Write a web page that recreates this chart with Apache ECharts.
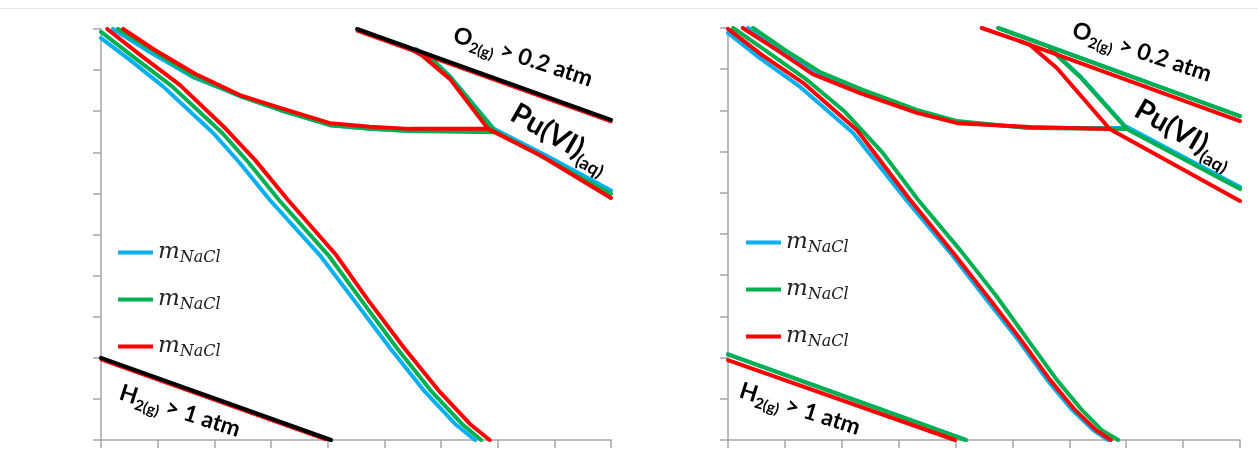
<!DOCTYPE html>
<html>
<head>
<meta charset="utf-8">
<script src="https://cdn.jsdelivr.net/npm/echarts@6/dist/echarts.min.js"></script>
<style>
  html, body { margin: 0; padding: 0; background: #fff; }
  #main { width: 1258px; height: 449px; }
</style>
</head>
<body>
<div id="main"></div>
<script>
// x: 0..9 (9 tick intervals), y: 0..10 (10 tick intervals), no tick labels shown
const xMax = 9
const yMax = 10
const legendNames = ['mNaCl-1', 'mNaCl-2', 'mNaCl-3']
const colors = ['#00b0f0', '#00b050', '#ff0000']

// ---- left panel ----
const leftLower = [
  [[0, 9.78], [0.51, 9.25], [1.09, 8.61], [1.98, 7.47], [2.45, 6.74], [2.98, 5.84], [3.86, 4.50], [4.46, 3.41], [5.10, 2.24], [5.72, 1.17], [6.25, 0.39], [6.60, 0]],
  [[0, 9.93], [0.60, 9.29], [1.25, 8.61], [2.14, 7.47], [2.61, 6.74], [3.14, 5.84], [4.01, 4.50], [4.59, 3.41], [5.22, 2.24], [5.84, 1.17], [6.37, 0.39], [6.71, 0]],
  [[0.11, 10], [0.69, 9.37], [1.39, 8.64], [2.19, 7.59], [2.72, 6.81], [3.30, 5.84], [4.15, 4.50], [4.71, 3.41], [5.35, 2.24], [5.98, 1.17], [6.51, 0.39], [6.86, 0]]
]
const leftUpper = [
  [[0.21, 10], [0.86, 9.44], [1.62, 8.83], [2.45, 8.37], [3.16, 8.03], [4.04, 7.66], [4.75, 7.57], [5.45, 7.52], [6.95, 7.52]],
  [[0.30, 10], [0.90, 9.49], [1.62, 8.86], [2.45, 8.37], [3.16, 8.03], [4.04, 7.66], [4.75, 7.57], [5.45, 7.52], [6.95, 7.49]],
  [[0.39, 10], [0.95, 9.49], [1.66, 8.91], [2.45, 8.39], [3.16, 8.08], [4.04, 7.71], [4.75, 7.62], [5.45, 7.57], [6.83, 7.57]]
]
const leftDiag = [
  [[6.95, 7.54], [6.16, 8.85], [5.81, 9.31], [5.56, 9.51]],
  [[6.95, 7.52], [6.16, 8.83], [5.81, 9.29], [5.56, 9.49]],
  [[6.83, 7.57], [6.16, 8.78], [5.68, 9.34], [5.36, 9.59]]
]
const leftPu6 = [
  [[6.95, 7.56], [7.83, 6.94], [9, 6.07]],
  [[6.95, 7.52], [7.83, 6.86], [9, 5.99]],
  [[6.83, 7.57], [7.75, 6.93], [9, 5.89]]
]
const leftO2Red = [[4.52, 9.95], [9, 7.74]]
const leftO2Black = [[4.52, 10], [9, 7.79]]
const leftH2Red = [[0, 1.95], [3.98, 0]]
const leftH2Black = [[0, 2.0], [4.06, 0]]

// ---- right panel ----
const rightLower = [
  [[0, 9.88], [0.56, 9.27], [1.27, 8.57], [2.20, 7.45], [3.13, 5.83], [3.94, 4.49], [4.55, 3.40], [5.10, 2.43], [5.61, 1.46], [6.05, 0.73], [6.42, 0.24], [6.68, 0]],
  [[0.09, 10], [0.60, 9.51], [1.39, 8.74], [2.06, 7.96], [2.72, 6.97], [3.34, 5.83], [4.11, 4.56], [4.73, 3.47], [5.27, 2.43], [5.78, 1.46], [6.22, 0.73], [6.57, 0.24], [6.86, 0]],
  [[0, 9.98], [0.60, 9.34], [1.32, 8.67], [2.27, 7.52], [3.20, 5.83], [3.99, 4.49], [4.61, 3.40], [5.15, 2.43], [5.66, 1.46], [6.10, 0.73], [6.47, 0.24], [6.73, 0]]
]
const rightUpper = [
  [[0.35, 10], [0.97, 9.44], [1.58, 8.91], [2.36, 8.47], [3.32, 7.99], [4.03, 7.72], [5.31, 7.57], [7.01, 7.57]],
  [[0.44, 10], [1.00, 9.47], [1.62, 8.93], [2.37, 8.50], [3.32, 8.01], [4.03, 7.74], [5.31, 7.57], [7.01, 7.55]],
  [[0.26, 10], [0.91, 9.42], [1.49, 8.88], [2.32, 8.42], [3.32, 7.94], [4.03, 7.69], [5.31, 7.60], [6.71, 7.55]]
]
const rightDiag = [
  [[7.01, 7.57], [6.19, 8.83], [5.78, 9.36], [5.66, 9.53]],
  [[7.01, 7.55], [6.19, 8.81], [5.78, 9.34], [5.66, 9.51]],
  [[6.71, 7.55], [5.78, 9.03], [5.31, 9.59], [5.13, 9.68]]
]
const rightO2 = [
  [[4.75, 10], [9, 7.86]],
  [[4.75, 10], [9, 7.86]],
  [[4.46, 10], [5.13, 9.68], [9, 7.74]]
]
const rightPu6 = [
  [[7.01, 7.60], [9, 6.14]],
  [[7.01, 7.55], [9, 6.09]],
  [[6.71, 7.55], [9, 5.80]]
]
const rightH2 = [
  [[0, 2.08], [4.18, 0]],
  [[0, 2.08], [4.18, 0]],
  [[0, 1.94], [3.99, 0]]
]

function curve(data, name, color, g, width) {
  return {
    type: 'line',
    name: name,
    xAxisIndex: g,
    yAxisIndex: g,
    data: data,
    symbol: 'none',
    silent: true,
    lineStyle: { color: color, width: width || 4, join: 'round', cap: 'round' },
    itemStyle: { color: color }
  }
}

const series = []
for (let i = 0; i < 3; i++) {
  ;[leftLower, leftUpper, leftDiag, leftPu6].forEach(set => {
    series.push(curve(set[i], legendNames[i], colors[i], 0))
  })
  ;[rightLower, rightUpper, rightDiag, rightO2, rightPu6, rightH2].forEach(set => {
    series.push(curve(set[i], legendNames[i], colors[i], 1))
  })
}
series.push(curve(leftO2Red, legendNames[2], colors[2], 0, 3))
series.push(curve(leftH2Red, legendNames[2], colors[2], 0, 3))
series.push(curve(leftO2Black, 'limit', '#000', 0, 4))
series.push(curve(leftH2Black, 'limit', '#000', 0, 4))

const axisCommon = {
  type: 'value',
  interval: 1,
  axisLine: { show: true, onZero: false, lineStyle: { color: '#a6a6a6', width: 1.5 } },
  axisTick: { show: true, length: 8, lineStyle: { color: '#a6a6a6', width: 1.5 } },
  axisLabel: { show: false },
  splitLine: { show: false }
}

const legendRich = {
  m: { fontFamily: 'DejaVu Serif', fontStyle: 'italic', fontSize: 23, color: '#222', lineHeight: 26, verticalAlign: 'middle' },
  s: { fontFamily: 'DejaVu Serif', fontStyle: 'italic', fontSize: 16, color: '#222', verticalAlign: 'bottom' }
}

function legendAt(left, top) {
  return {
    left: left,
    top: top,
    orient: 'vertical',
    icon: 'rect',
    itemWidth: 35,
    itemHeight: 4,
    itemGap: 22.5,
    data: legendNames,
    selectedMode: false,
    formatter: () => '{m|m}{s|NaCl}',
    textStyle: { rich: legendRich }
  }
}

const labelRich = {
  b: { fontFamily: 'Lato', fontWeight: 'bold', fontSize: 23, color: '#000', lineHeight: 30, verticalAlign: 'middle' },
  s: { fontFamily: 'Lato', fontWeight: 'bold', fontSize: 15, color: '#000', verticalAlign: 'bottom' },
  p: { fontFamily: 'Lato', fontWeight: 'bold', fontSize: 29, color: '#000', lineHeight: 38, verticalAlign: 'middle' },
  q: { fontFamily: 'Lato', fontWeight: 'bold', fontSize: 18, color: '#000', verticalAlign: 'bottom' }
}

function label(text, x, y, rot) {
  return {
    type: 'text',
    x: x,
    y: y,
    rotation: rot,
    silent: true,
    style: { text: text, rich: labelRich, align: 'center', verticalAlign: 'middle' }
  }
}

const chart = echarts.init(document.getElementById('main'))
chart.setOption({
  animation: false,
  backgroundColor: '#fff',
  grid: [
    { left: 101, top: 29, width: 510, height: 411 },
    { left: 728, top: 28, width: 512, height: 412 }
  ],
  xAxis: [
    Object.assign({ gridIndex: 0, min: 0, max: xMax }, axisCommon),
    Object.assign({ gridIndex: 1, min: 0, max: xMax }, axisCommon)
  ],
  yAxis: [
    Object.assign({ gridIndex: 0, min: 0, max: yMax }, axisCommon),
    Object.assign({ gridIndex: 1, min: 0, max: yMax }, axisCommon)
  ],
  legend: [legendAt(113, 236), legendAt(741, 226)],
  graphic: [
    { type: 'line', shape: { x1: 0, y1: 8.5, x2: 1258, y2: 8.5 }, style: { stroke: '#e6e6e6', lineWidth: 1 }, silent: true },
    label('{b|O}{s|2(g)}{b| > 0.2 atm}', 523, 57, -0.32),
    label('{p|Pu(VI)}{q|(aq)}', 560, 138, -0.52),
    label('{b|H}{s|2(g)}{b| > 1 atm}', 180, 411, -0.31),
    label('{b|O}{s|2(g)}{b| > 0.2 atm}', 1142, 52, -0.32),
    label('{p|Pu(VI)}{q|(aq)}', 1184, 134, -0.52),
    label('{b|H}{s|2(g)}{b| > 1 atm}', 800, 409, -0.31)
  ],
  series: series
})
</script>
</body>
</html>
